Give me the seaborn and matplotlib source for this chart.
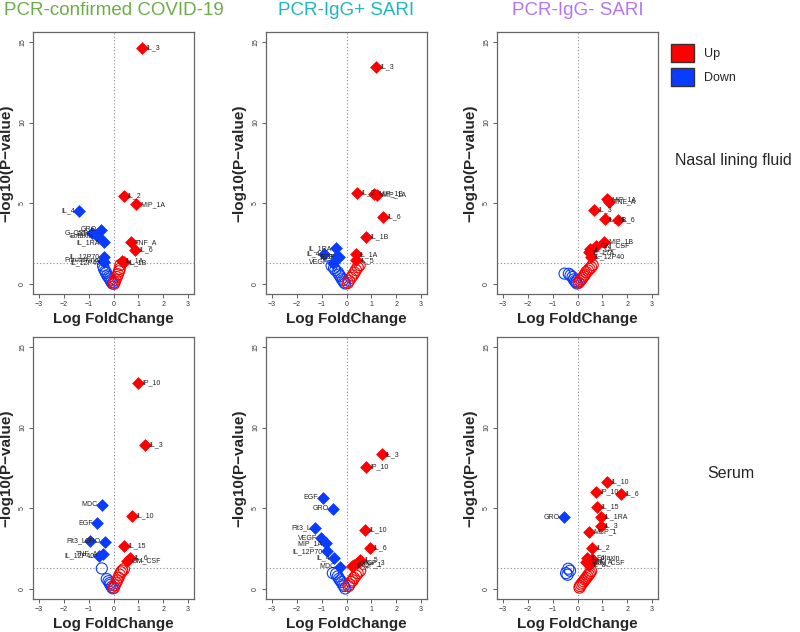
import numpy as np
import pandas as pd
import matplotlib
matplotlib.use("Agg")
import matplotlib.pyplot as plt
from matplotlib.patches import Patch
import seaborn as sns

# --- data: -log10(P) vs log fold change ---
# Nasal lining fluid / PCR-confirmed COVID-19
nasal_covid_names = ["IL_3", "IL_2", "MIP_1A", "TNF_A", "IL_6", "IL_1A", "IL_1B",
                     "IL_4", "GRO", "G_CSF", "Eotaxin", "EGF", "IL_1RA", "IL_12P70",
                     "Fractalkine", "IL_12P40"]
nasal_covid_fc = [1.16, 0.41, 0.91, 0.71, 0.87, 0.33, 0.44,
                  -1.39, -0.51, -0.87, -0.64, -0.72, -0.39, -0.38, -0.42, -0.37]
nasal_covid_p = [14.6, 5.45, 4.94, 2.59, 2.12, 1.44, 1.36,
                 4.54, 3.37, 3.2, 2.96, 3.05, 2.59, 1.7, 1.45, 1.36]
nasal_covid_ns_fc = [-0.42, -0.38, -0.33, -0.3, -0.25, -0.2, -0.15, -0.12, -0.08, -0.04,
                     0.28, 0.25, 0.22, 0.18, 0.13, 0.08, 0.04, 0.02]
nasal_covid_ns_p = [1.15, 0.95, 0.8, 0.7, 0.55, 0.45, 0.35, 0.25, 0.15, 0.05,
                    1.2, 0.95, 0.8, 0.62, 0.45, 0.28, 0.12, 0.03]

# Nasal lining fluid / PCR-IgG+ SARI
nasal_pos_names = ["IL_3", "IL_2", "MIP_1B", "MIP_1A", "IL_6", "IL_1B", "IL_1A", "IL_5",
                   "IL_1RA", "IL_4", "IL_8", "EGF", "VEGF"]
nasal_pos_fc = [1.2, 0.44, 1.1, 1.22, 1.47, 0.78, 0.37, 0.4,
                -0.41, -0.9, -0.37, -0.3, -0.56]
nasal_pos_p = [13.43, 5.66, 5.57, 5.53, 4.17, 2.94, 1.85, 1.48,
               2.22, 1.87, 1.72, 1.68, 1.32]
nasal_pos_ns_fc = [-0.6, -0.5, -0.45, -0.35, -0.3, -0.25, -0.2, -0.15, -0.1, -0.05,
                   0.53, 0.45, 0.38, 0.32, 0.25, 0.18, 0.1, 0.05]
nasal_pos_ns_p = [1.15, 1.0, 0.88, 0.75, 0.6, 0.5, 0.35, 0.25, 0.12, 0.05,
                  1.19, 1.05, 0.88, 0.72, 0.55, 0.4, 0.22, 0.08]

# Nasal lining fluid / PCR-IgG- SARI
nasal_neg_names = ["MIP_1A", "TNF_A", "IL_3", "IL_1B", "IL_6", "MIP_1B", "GM_CSF",
                   "IL_1A", "IL_17A", "IL_12P40"]
nasal_neg_fc = [1.19, 1.28, 0.67, 1.09, 1.61, 1.08, 0.75, 0.52, 0.45, 0.53]
nasal_neg_p = [5.25, 5.08, 4.6, 4.01, 3.97, 2.61, 2.38, 2.16, 1.98, 1.7]
nasal_neg_ns_fc = [-0.52, -0.35, -0.28, -0.2, -0.15, -0.1, -0.05, -0.02,
                   0.61, 0.55, 0.48, 0.42, 0.35, 0.3, 0.25, 0.2, 0.15, 0.1, 0.05]
nasal_neg_ns_p = [0.66, 0.65, 0.55, 0.45, 0.3, 0.2, 0.12, 0.05,
                  1.19, 1.05, 0.95, 0.85, 0.75, 0.6, 0.5, 0.4, 0.3, 0.2, 0.1]

# Serum / PCR-confirmed COVID-19
serum_covid_names = ["IP_10", "IL_3", "MDC", "IL_10", "EGF", "Flt3_L", "GRO", "IL_15",
                     "TNF_A", "IL_12P40", "IL_6", "GM_CSF"]
serum_covid_fc = [1.0, 1.27, -0.48, 0.76, -0.65, -0.93, -0.33, 0.43,
                  -0.43, -0.6, 0.67, 0.55]
serum_covid_p = [12.76, 8.94, 5.24, 4.55, 4.08, 3.01, 2.93, 2.7,
                 2.19, 2.05, 1.95, 1.76]
serum_covid_ns_fc = [-0.47, -0.27, -0.2, -0.15, -0.12, -0.07, -0.03,
                     0.42, 0.35, 0.3, 0.25, 0.2, 0.15, 0.1, 0.05, 0.02]
serum_covid_ns_p = [1.29, 0.63, 0.5, 0.38, 0.28, 0.15, 0.06,
                    1.25, 1.15, 1.05, 0.9, 0.72, 0.55, 0.4, 0.25, 0.1]

# Serum / PCR-IgG+ SARI
serum_pos_names = ["IL_3", "IP_10", "EGF", "GRO", "Flt3_L", "IL_10", "VEGF", "MIP_1A",
                   "IL_6", "IL_12P70", "IL_4", "MDC", "IL_5", "MCP_3", "MCP_1", "IL_2"]
serum_pos_fc = [1.41, 0.78, -0.96, -0.55, -1.25, 0.76, -1.01, -0.82,
                0.93, -0.79, -0.51, -0.27, 0.55, 0.42, 0.32, 0.22]
serum_pos_p = [8.34, 7.56, 5.67, 4.98, 3.79, 3.67, 3.15, 2.84,
               2.56, 2.35, 1.95, 1.4, 1.8, 1.65, 1.5, 1.45]
serum_pos_ns_fc = [-0.55, -0.42, -0.35, -0.3, -0.25, -0.2, -0.15, -0.1, -0.05,
                   0.55, 0.45, 0.38, 0.3, 0.25, 0.18, 0.12, 0.08]
serum_pos_ns_p = [1.0, 0.95, 0.8, 0.65, 0.55, 0.45, 0.3, 0.2, 0.05,
                  1.15, 1.0, 0.85, 0.7, 0.55, 0.45, 0.3, 0.2]

# Serum / PCR-IgG- SARI
serum_neg_names = ["IL_10", "IP_10", "IL_6", "IL_15", "IL_1RA", "GRO", "IL_3", "MCP_1",
                   "IL_2", "IL_4", "Eotaxin", "TNF_A", "GM_CSF", "IL_8"]
serum_neg_fc = [1.2, 0.75, 1.74, 0.8, 0.93, -0.56, 0.93, 0.46,
                0.58, 0.38, 0.58, 0.36, 0.55, 0.45]
serum_neg_p = [6.62, 6.02, 5.9, 5.08, 4.46, 4.44, 3.9, 3.57,
               2.58, 1.95, 1.9, 1.7, 1.62, 1.5]
serum_neg_ns_fc = [-0.37, -0.46, -0.3, -0.4,
                   0.55, 0.5, 0.45, 0.4, 0.35, 0.3, 0.25, 0.2, 0.15, 0.1, 0.08]
serum_neg_ns_p = [1.27, 1.0, 1.15, 0.9,
                  1.13, 1.0, 0.9, 0.8, 0.7, 0.6, 0.5, 0.4, 0.3, 0.2, 0.1]

groups = ["PCR-confirmed COVID-19", "PCR-IgG+ SARI", "PCR-IgG- SARI"]
group_colors = ["#6DAD49", "#1FB6C3", "#B574F7"]
samples = ["Nasal lining fluid", "Serum"]

panels = [
    [(nasal_covid_names, nasal_covid_fc, nasal_covid_p, nasal_covid_ns_fc, nasal_covid_ns_p),
     (nasal_pos_names, nasal_pos_fc, nasal_pos_p, nasal_pos_ns_fc, nasal_pos_ns_p),
     (nasal_neg_names, nasal_neg_fc, nasal_neg_p, nasal_neg_ns_fc, nasal_neg_ns_p)],
    [(serum_covid_names, serum_covid_fc, serum_covid_p, serum_covid_ns_fc, serum_covid_ns_p),
     (serum_pos_names, serum_pos_fc, serum_pos_p, serum_pos_ns_fc, serum_pos_ns_p),
     (serum_neg_names, serum_neg_fc, serum_neg_p, serum_neg_ns_fc, serum_neg_ns_p)],
]

RED = "#FF0000"
BLUE = "#0A3CFF"
threshold = -np.log10(0.05)

sns.set_style("white")
plt.rcParams["font.family"] = ["Liberation Sans", "DejaVu Sans"]

fig = plt.figure(figsize=(8, 6.32), dpi=100)

lefts = [33 / 800, 266 / 800, 497 / 800]
bottoms = [1 - 294 / 632, 1 - 599 / 632]
width, height = 161 / 800, 262 / 632

for r, row in enumerate(panels):
    for c, (names, fc, p, ns_fc, ns_p) in enumerate(row):
        ax = fig.add_axes([lefts[c], bottoms[r], width, height])

        sig = pd.DataFrame({"name": names, "fc": fc, "p": p})
        sig["dir"] = np.where(sig["fc"] > 0, "Up", "Down")
        ns = pd.DataFrame({"fc": ns_fc, "p": ns_p})
        ns["dir"] = np.where(ns["fc"] > 0, "Up", "Down")

        # dotted reference lines: fold change 0 and p = 0.05
        ax.axvline(0, color="#888888", ls=(0, (1, 2)), lw=0.8, zorder=0)
        ax.axhline(threshold, color="#888888", ls=(0, (1, 2)), lw=0.8, zorder=0)

        # non significant: open circles
        for d, col in (("Down", BLUE), ("Up", RED)):
            sub = ns[ns["dir"] == d]
            sns.scatterplot(data=sub, x="fc", y="p", ax=ax, marker="o", s=64,
                            facecolors="none", edgecolor=col, linewidth=0.8,
                            legend=False, zorder=2)
        # significant: filled diamonds
        for d, col in (("Down", BLUE), ("Up", RED)):
            sub = sig[sig["dir"] == d]
            sns.scatterplot(data=sub, x="fc", y="p", ax=ax, marker="D", s=36,
                            color=col, edgecolor=col, linewidth=0.5,
                            legend=False, zorder=3)

        for _, row_ in sig.iterrows():
            if row_["fc"] > 0:
                ax.annotate(row_["name"], (row_["fc"], row_["p"]), xytext=(3, 0),
                            textcoords="offset points", ha="left", va="center",
                            fontsize=5, color="#222222", zorder=4)
            else:
                ax.annotate(row_["name"], (row_["fc"], row_["p"]), xytext=(-3, 0),
                            textcoords="offset points", ha="right", va="center",
                            fontsize=5, color="#222222", zorder=4)

        ax.set_xlim(-3.24, 3.24)
        ax.set_ylim(-0.6, 15.6)
        ax.set_xticks(range(-3, 4))
        ax.set_yticks([0, 5, 10, 15])
        ax.tick_params(axis="both", which="both", direction="out", length=3,
                       width=0.6, color="#444444", labelsize=5, labelcolor="#333333",
                       bottom=True, left=True, pad=2)
        for lab in ax.get_yticklabels():
            lab.set_rotation(90)
            lab.set_va("center")
        for sp in ax.spines.values():
            sp.set_color("#666666")
            sp.set_linewidth(0.9)

        ax.set_xlabel("Log FoldChange", fontsize=11, fontweight="bold", labelpad=3)
        ax.set_ylabel("\u2212log10(P\u2212value)", fontsize=11, fontweight="bold", labelpad=4)

        if r == 0:
            ax.set_title(groups[c], color=group_colors[c], fontsize=13.5, pad=12)

fig.text(675 / 800, 1 - 160 / 632, samples[0], fontsize=11.5, ha="left", va="center")
fig.text(731 / 800, 1 - 473 / 632, samples[1], fontsize=11.5, ha="center", va="center")

handles = [Patch(facecolor=RED, edgecolor="#333333", label="Up"),
           Patch(facecolor=BLUE, edgecolor="#333333", label="Down")]
fig.legend(handles=handles, loc="upper left", bbox_to_anchor=(660 / 800, 1 - 33 / 632),
           frameon=False, fontsize=9, handlelength=1.8, handleheight=1.8,
           handletextpad=0.8, labelspacing=0.5)

plt.savefig("out.png", dpi=100, facecolor="white")
plt.close()
